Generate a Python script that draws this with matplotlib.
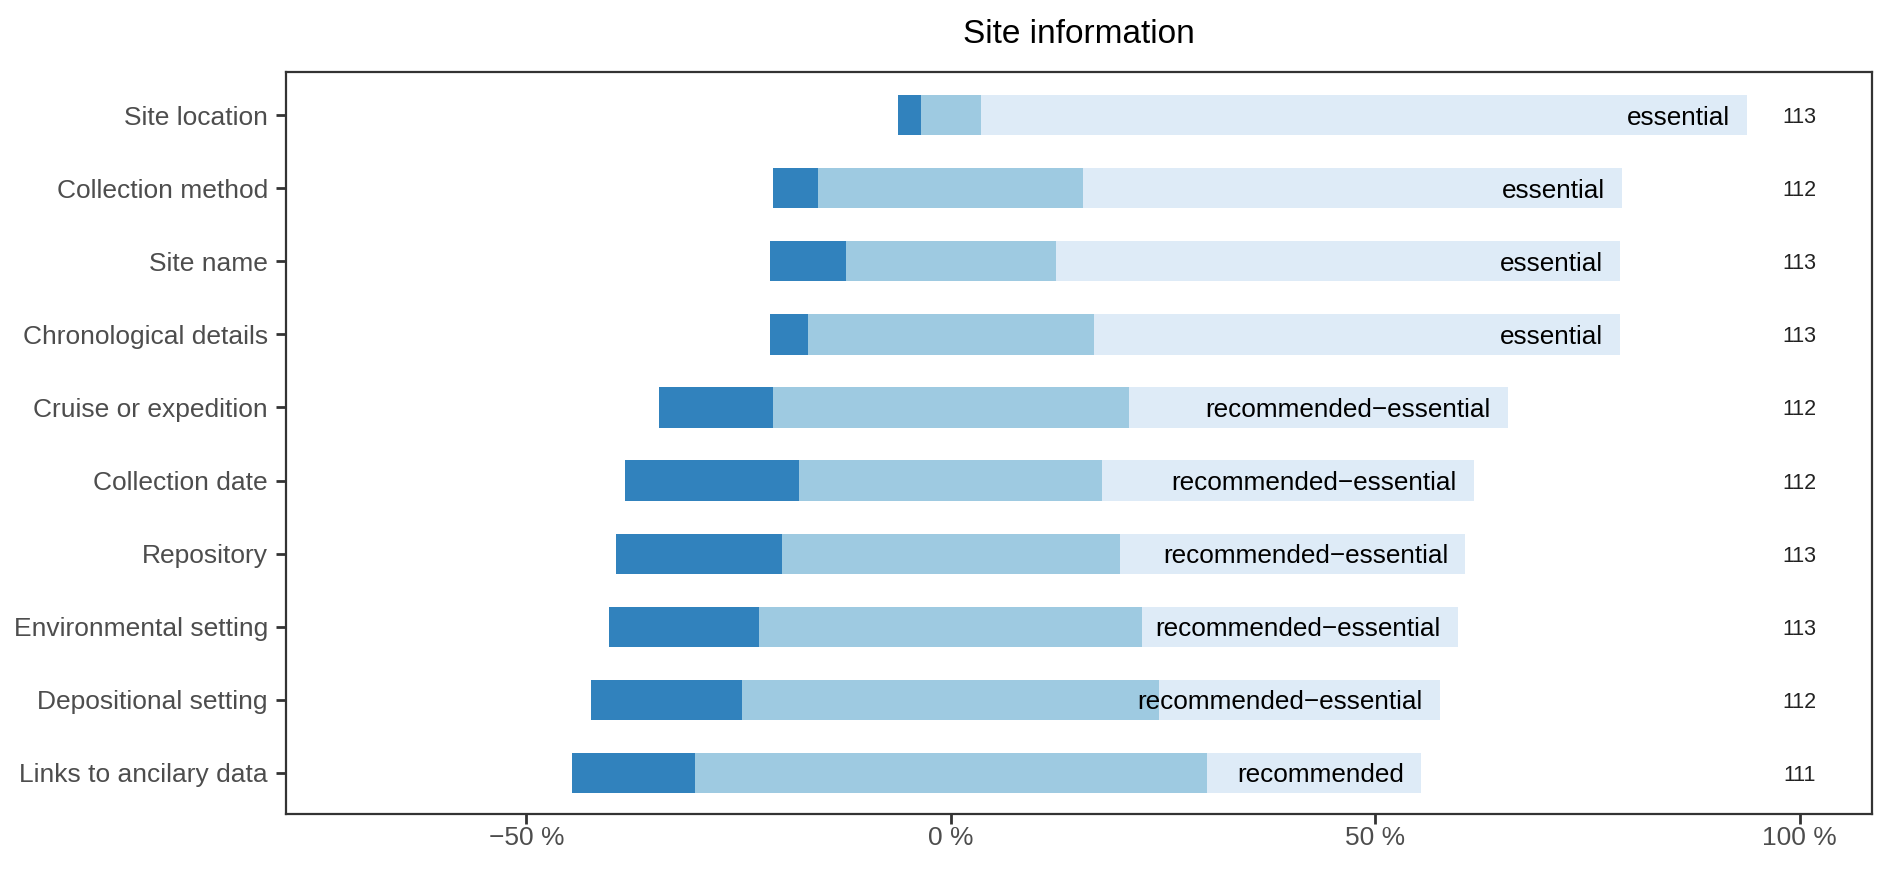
import matplotlib
matplotlib.use("Agg")
import matplotlib.pyplot as plt
import numpy as np

plt.rcParams['font.family'] = ['Liberation Sans', 'DejaVu Sans']

# Data (top to bottom as displayed)
categories = ["Site location", "Collection method", "Site name", "Chronological details",
              "Cruise or expedition", "Collection date", "Repository",
              "Environmental setting", "Depositional setting", "Links to ancilary data"]
not_needed = [3, 6, 10, 5, 15, 23, 22, 20, 20, 16]      # dark
recommended = [8, 35, 28, 38, 47, 40, 45, 51, 55, 67]   # middle (centred)
essential = [102, 71, 75, 70, 50, 49, 46, 42, 37, 28]   # light
totals = [113, 112, 113, 113, 112, 112, 113, 113, 112, 111]
ratings = ["essential", "essential", "essential", "essential",
           "recommended\u2212essential", "recommended\u2212essential",
           "recommended\u2212essential", "recommended\u2212essential",
           "recommended\u2212essential", "recommended"]
xticks = [-50, 0, 50, 100]
xticklabels = ["\u221250 %", "0 %", "50 %", "100 %"]

c_dark, c_mid, c_light = "#3182BD", "#9ECAE1", "#DEEBF7"

n = np.array(totals, float)
pd_ = np.array(not_needed) / n * 100
pm = np.array(recommended) / n * 100
pl = np.array(essential) / n * 100

k = len(categories)
y = np.arange(k)[::-1]  # first category at top

fig = plt.figure(figsize=(18.92, 8.73), dpi=100)
ax = fig.add_axes([286/1892, 1-814/873, (1872-286)/1892, (814-72)/873])

h = 0.55
mid_left = -pm / 2
ax.barh(y, pm, left=mid_left, height=h, color=c_mid, linewidth=0)
ax.barh(y, pd_, left=mid_left - pd_, height=h, color=c_dark, linewidth=0)
ax.barh(y, pl, left=pm / 2, height=h, color=c_light, linewidth=0)

for yi, end, lab, tot in zip(y, pm / 2 + pl, ratings, totals):
    ax.text(end - 2.0, yi, lab, ha='right', va='center_baseline', fontsize=18.8, color='black')
    ax.text(100, yi, str(tot), ha='center', va='center_baseline', fontsize=15.5, color='#222222')

ax.set_xlim(-78.3, 108.5)
ax.set_ylim(-0.565, k - 1 + 0.593)
ax.set_yticks(y)
ax.set_yticklabels(categories)
ax.set_xticks(xticks)
ax.set_xticklabels(xticklabels)

for s in ax.spines.values():
    s.set_color('#333333')
    s.set_linewidth(1.6)
ax.tick_params(axis='both', colors='#333333', width=2, length=7, labelsize=19,
               labelcolor='#4D4D4D')
ax.tick_params(axis='y', pad=6)
ax.tick_params(axis='x', pad=1.5)

fig.text((286 + 1872) / 2 / 1892, 1 - 43/873, "Site information", ha='center',
         va='baseline', fontsize=24, color='black')

fig.savefig("out.png", dpi=100)
